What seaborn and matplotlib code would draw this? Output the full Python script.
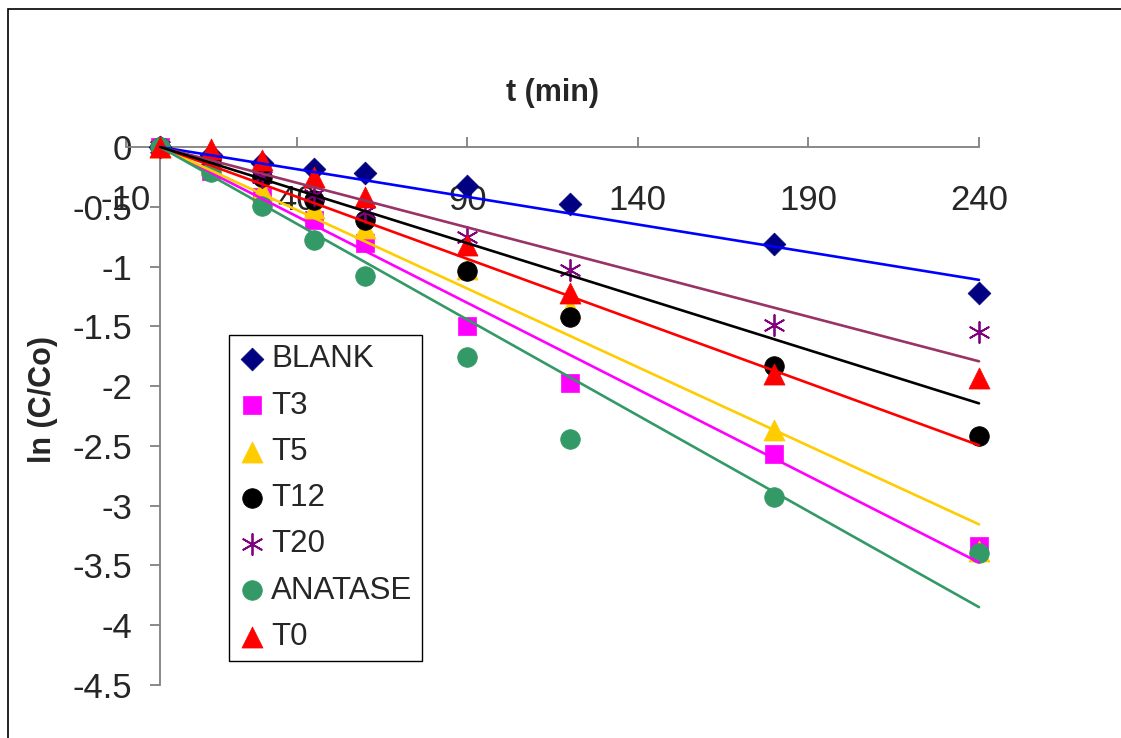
import matplotlib
matplotlib.use("Agg")
import matplotlib.pyplot as plt
import matplotlib.patches as mpatches
from matplotlib.ticker import FuncFormatter
import numpy as np
import pandas as pd
import seaborn as sns

# sampling times (min)
t_min = [0, 15, 30, 45, 60, 90, 120, 180, 240]

# ln(C/Co) per sample
blank = [0, -0.07, -0.13, -0.18, -0.22, -0.33, -0.48, -0.81, -1.22]
t3 = [0, -0.20, -0.42, -0.61, -0.80, -1.50, -1.97, -2.57, -3.34]
t5 = [0, -0.15, -0.36, -0.51, -0.68, -1.02, -1.35, -2.37, -3.38]
t12 = [0, -0.10, -0.25, -0.44, -0.61, -1.04, -1.42, -1.83, -2.42]
t20 = [0, -0.10, -0.25, -0.40, -0.54, -0.75, -1.03, -1.49, -1.55]
anatase = [0, -0.21, -0.49, -0.78, -1.08, -1.76, -2.44, -2.93, -3.40]
t0 = [0, -0.02, -0.11, -0.25, -0.42, -0.82, -1.22, -1.90, -1.93]

series_names = ['BLANK', 'T3', 'T5', 'T12', 'T20', 'ANATASE', 'T0']
series_values = [blank, t3, t5, t12, t20, anatase, t0]

x_ticks = [-10, 40, 90, 140, 190, 240]
y_ticks = [0, -0.5, -1, -1.5, -2, -2.5, -3, -3.5, -4, -4.5]

marker_colors = ['#000080', '#FF00FF', '#FFCC00', '#000000', '#800080', '#339966', '#FF0000']
# trendline colours as in the original (T12 / T0 lines come out red / black)
line_colors = ['#0000FF', '#FF00FF', '#FFCC00', '#FF0000', '#993366', '#339966', '#000000']
markers = ['D', 's', '^', 'o', (6, 2, 0), 'o', '^']
marker_sizes = [135, 170, 230, 200, 230, 200, 230]


sns.set_style('white')
plt.rcParams['font.family'] = ['Liberation Sans', 'DejaVu Sans']
plt.rcParams['axes.unicode_minus'] = False

W, H = 1121, 738
fig = plt.figure(figsize=(W / 100, H / 100), dpi=100)
ax = fig.add_axes([126 / W, 53 / H, 853 / W, 538 / H])

df = pd.DataFrame({'t': np.tile(t_min, len(series_names)),
                   'lnC': np.concatenate(series_values),
                   'sample': np.repeat(series_names, len(t_min))})

for i, name in enumerate(series_names):
    sub = df[df['sample'] == name]
    lw = 1.3 if markers[i] == (6, 2, 0) else 0.5
    sns.scatterplot(x=sub['t'], y=sub['lnC'], marker=markers[i], s=marker_sizes[i],
                    color=marker_colors[i], edgecolor=marker_colors[i], linewidth=lw,
                    label=name, clip_on=False, zorder=3, ax=ax)

# linear trendlines through the origin
for i, name in enumerate(series_names):
    sub = df[df['sample'] == name]
    slope = (sub['t'] * sub['lnC']).sum() / (sub['t'] ** 2).sum()
    t_fit = np.array([sub['t'].min(), sub['t'].max()])
    sns.lineplot(x=t_fit, y=slope * t_fit, color=line_colors[i], linewidth=1.9,
                 clip_on=False, zorder=4, ax=ax, legend=False)

ax.set_xlim(-10, 240)
ax.set_ylim(-4.5, 0)
ax.set_xticks(x_ticks)
ax.set_yticks(y_ticks)
ax.yaxis.set_major_formatter(FuncFormatter(lambda v, p: f'{v:g}'))

for side in ['top', 'right']:
    ax.spines[side].set_visible(False)
ax.spines['left'].set_position(('data', 0))
ax.spines['bottom'].set_position(('data', 0))
for side in ['left', 'bottom']:
    ax.spines[side].set_color('#808080')
    ax.spines[side].set_linewidth(1.3)

ax.tick_params(axis='x', direction='in', length=7, width=1.3, color='#808080',
               labelsize=25, pad=27, bottom=True)
ax.tick_params(axis='y', direction='out', length=7, width=1.3, color='#808080',
               labelsize=25, pad=13, left=True)

ax.set_xlabel('t (min)', fontsize=22, fontweight='bold', va='center')
ax.xaxis.set_label_coords(0.5, 1.10)
ax.set_ylabel('ln (C/Co)', fontsize=22, fontweight='bold', va='center')
ax.yaxis.set_label_coords(-0.097, 0.53)

leg = ax.legend(loc='upper left', bbox_to_anchor=(229 / W, 1 - 335 / H),
                bbox_transform=fig.transFigure, borderaxespad=0, fontsize=22.5,
                frameon=True, fancybox=False, framealpha=1, edgecolor='black',
                scatterpoints=1, handlelength=0.85, handletextpad=0.2,
                borderpad=0.3, labelspacing=0.52)
leg.get_frame().set_linewidth(1.0)

# outer chart frame (top and left edges only are in view)
fig.add_artist(mpatches.Rectangle((8 / W, -0.5), 2, 1 - 9 / H + 0.5,
                                  transform=fig.transFigure, fill=False,
                                  edgecolor='black', linewidth=1.2))

fig.savefig('out.png', dpi=100)
plt.close(fig)
